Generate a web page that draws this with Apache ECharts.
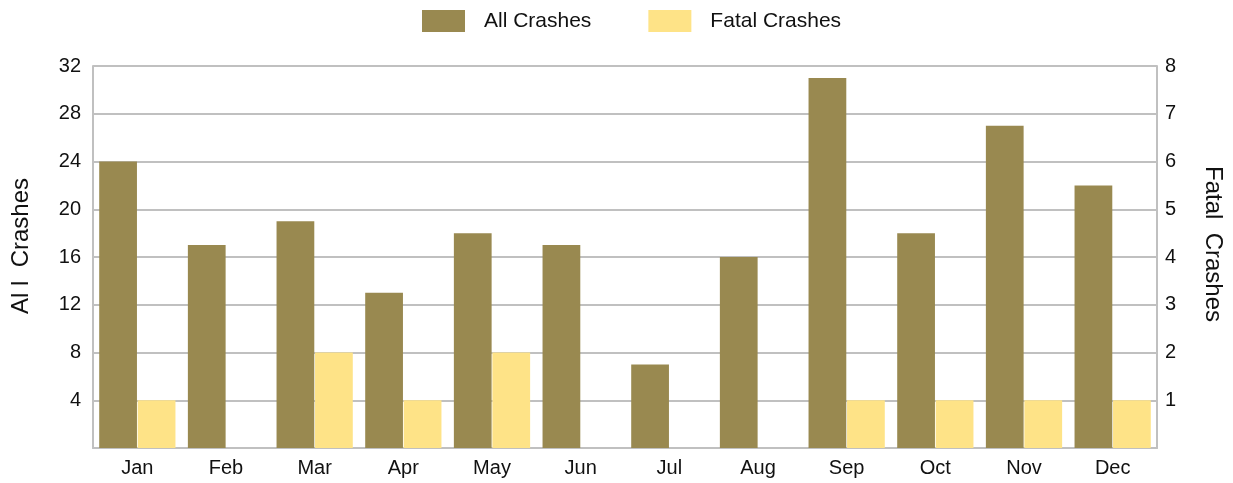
<!DOCTYPE html>
<html>
<head>
<meta charset="utf-8">
<script src="https://cdn.jsdelivr.net/npm/echarts@6/dist/echarts.min.js"></script>
<style>
    html, body { margin: 0; padding: 0; background: #fff; }
    #chart { width: 1233px; height: 483px; }
</style>
</head>
<body>
<div id="chart"></div>
<script>
// data
const months = ['Jan', 'Feb', 'Mar', 'Apr', 'May', 'Jun', 'Jul', 'Aug', 'Sep', 'Oct', 'Nov', 'Dec'];
const allCrashes = [24, 17, 19, 13, 18, 17, 7, 16, 31, 18, 27, 22];
const fatalCrashes = [1, 0, 2, 1, 2, 0, 0, 0, 1, 1, 1, 1];

const font = 'Liberation Sans, Arial, sans-serif';
const gridColor = '#c0c0c0';

let myChart = echarts.init(document.getElementById('chart'));
myChart.setOption({
    animation: false,
    textStyle: { fontFamily: font },
    legend: {
        top: 5,
        left: 417,
        icon: 'rect',
        itemWidth: 43,
        itemHeight: 22,
        itemGap: 57,
        textStyle: { fontSize: 21, color: '#111', fontFamily: font, padding: [0, 0, 0, 14] },
        data: ['All Crashes', 'Fatal Crashes']
    },
    grid: { left: 93, right: 75, top: 66, bottom: 35 },
    xAxis: {
        type: 'category',
        data: months,
        axisLine: { lineStyle: { color: gridColor, width: 2 } },
        axisTick: { show: false },
        axisLabel: { color: '#111', fontSize: 20, margin: 10, fontFamily: font }
    },
    yAxis: [
        {
            type: 'value', min: 0, max: 32, interval: 4,
            name: 'Al l  Crashes', nameLocation: 'middle', nameGap: 60, nameRotate: 90,
            nameTextStyle: { fontSize: 24, color: '#111', fontFamily: font, padding: [0, 0, 0, 22] },
            axisLine: { show: true, lineStyle: { color: gridColor, width: 2 } },
            axisTick: { show: false },
            splitLine: { lineStyle: { color: gridColor, width: 2 } },
            axisLabel: { color: '#111', fontSize: 20, margin: 12, fontFamily: font,
                formatter: v => v === 0 ? '' : v }
        },
        {
            type: 'value', min: 0, max: 8, interval: 1,
            name: 'Fatal  Crashes', nameLocation: 'middle', nameGap: 44, nameRotate: -90,
            nameTextStyle: { fontSize: 24, color: '#111', fontFamily: font, padding: [0, 26, 0, 0] },
            axisLine: { show: true, lineStyle: { color: gridColor, width: 2 } },
            axisTick: { show: false },
            splitLine: { show: false },
            axisLabel: { color: '#111', fontSize: 20, margin: 8, fontFamily: font,
                formatter: v => v === 0 ? '' : v }
        }
    ],
    series: [
        {
            name: 'All Crashes', type: 'bar', yAxisIndex: 0,
            data: allCrashes,
            barGap: '2%', barCategoryGap: '14%',
            itemStyle: { color: '#998950' }
        },
        {
            name: 'Fatal Crashes', type: 'bar', yAxisIndex: 1,
            data: fatalCrashes,
            itemStyle: { color: '#fee387' }
        }
    ]
});
</script>
</body>
</html>
